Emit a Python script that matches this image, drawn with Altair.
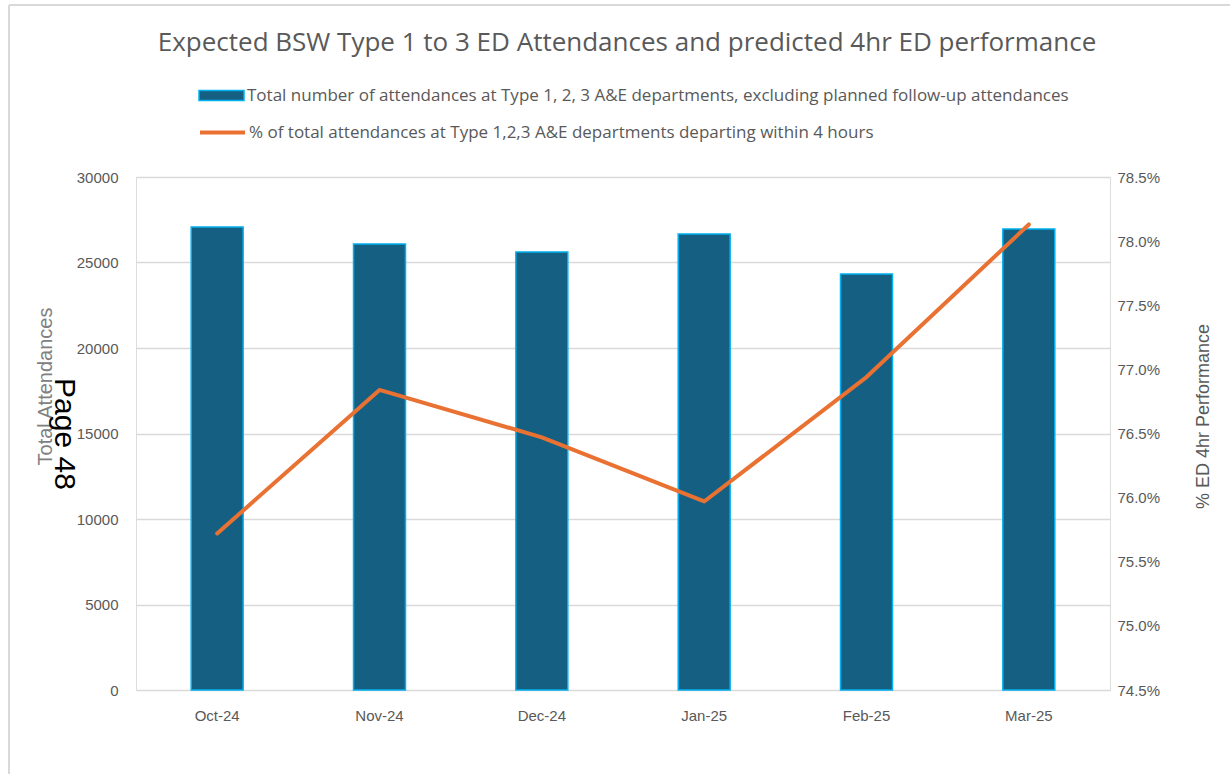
import altair as alt
import pandas as pd

# Monthly values
months = ["Oct-24", "Nov-24", "Dec-24", "Jan-25", "Feb-25", "Mar-25"]
attendances = [27080, 26080, 25610, 26670, 24330, 26960]
performance = [75.72, 76.84, 76.47, 75.97, 76.94, 78.13]

bar_label = ("Total number of attendances at Type 1, 2, 3 A&E departments, "
             "excluding planned follow-up attendances")
line_label = "% of total attendances at Type 1,2,3 A&E departments departing within 4 hours"

left_ticks = [0, 5000, 10000, 15000, 20000, 25000, 30000]
right_ticks = [74.5, 75.0, 75.5, 76.0, 76.5, 77.0, 77.5, 78.0, 78.5]

df = pd.DataFrame({
    "month": months,
    "attendances": attendances,
    "performance": performance,
    "bar_series": [bar_label] * len(months),
    "line_series": [line_label] * len(months),
})

GREY = "#595959"
GRID = "#d9d9d9"
TEXT_FONT = "Open Sans"
AXIS_FONT = "Liberation Sans"

x_enc = alt.X(
    "month:N",
    sort=months,
    scale=alt.Scale(paddingInner=0.68, paddingOuter=0.34),
    axis=alt.Axis(title=None, labelAngle=0, domain=False, ticks=False, grid=False,
                  labelFont=AXIS_FONT, labelFontSize=15, labelColor=GREY,
                  labelPadding=18),
)

bars = alt.Chart(df).mark_bar(stroke="#00B0F0", strokeWidth=1.5).encode(
    x=x_enc,
    y=alt.Y(
        "attendances:Q",
        scale=alt.Scale(domain=[0, 30000]),
        axis=alt.Axis(values=left_ticks, title="Total Attendances", format="d",
                      domain=False, ticks=False, grid=True, gridColor=GRID, gridWidth=1.3,
                      labelFont=AXIS_FONT, labelFontSize=15, labelColor=GREY, labelPadding=18,
                      titleFont=AXIS_FONT, titleFontSize=20, titleColor="#808080",
                      titleFontWeight="normal", titleX=-91, titleY=209,
                      titleBaseline="middle", titleAlign="center"),
    ),
    fill=alt.Fill(
        "bar_series:N",
        scale=alt.Scale(range=["#156082"]),
        legend=alt.Legend(title=None, orient="none", legendX=62, legendY=-105,
                          symbolType="M-1,-0.22H1V0.22H-1Z", symbolSize=2025,
                          symbolStrokeColor="#00B0F0", symbolStrokeWidth=1.5,
                          labelFont=TEXT_FONT, labelFontSize=17, labelColor=GREY,
                          labelLimit=0, labelOffset=2),
    ),
)

line = alt.Chart(df).mark_line(strokeWidth=4, strokeCap="round", strokeJoin="round").encode(
    x=x_enc,
    y=alt.Y(
        "performance:Q",
        scale=alt.Scale(domain=[74.5, 78.5]),
        axis=alt.Axis(orient="right", values=right_ticks,
                      labelExpr="format(datum.value, '.1f') + '%'",
                      title="% ED 4hr Performance", domain=False, ticks=False, grid=False,
                      labelFont=AXIS_FONT, labelFontSize=15, labelColor=GREY, labelPadding=7,
                      titleFont=AXIS_FONT, titleFontSize=18, titleColor=GREY,
                      titleFontWeight="normal", titleX=93, titleY=239,
                      titleBaseline="middle", titleAlign="center", titleAngle=-90),
    ),
    stroke=alt.Stroke(
        "line_series:N",
        scale=alt.Scale(range=["#E97132"]),
        legend=alt.Legend(title=None, orient="none", legendX=62, legendY=-69,
                          symbolType="stroke", symbolSize=2025, symbolStrokeWidth=4,
                          labelFont=TEXT_FONT, labelFontSize=17, labelColor=GREY,
                          labelLimit=0, labelOffset=2),
    ),
)

# Page stamp over the left axis
page_stamp = alt.Chart(pd.DataFrame({"t": ["Page 48"]})).mark_text(
    angle=90, fontSize=30, font=AXIS_FONT, color="black", align="center", baseline="middle"
).encode(text="t:N", x=alt.value(-72), y=alt.value(257))

# Outer frame (top and left edges)
frame_left = alt.Chart(pd.DataFrame({"k": [0]})).mark_rule(color=GRID, strokeWidth=2).encode(
    x=alt.value(-127), y=alt.value(-172), y2=alt.value(600)
)
frame_top = alt.Chart(pd.DataFrame({"k": [0]})).mark_rule(color=GRID, strokeWidth=2).encode(
    x=alt.value(-127), x2=alt.value(1100), y=alt.value(-172)
)

chart = alt.layer(frame_left, frame_top, bars, line, page_stamp).resolve_scale(
    y="independent"
).properties(
    width=974,
    height=513,
    padding={"left": 136, "top": 177, "right": 120, "bottom": 84},
    autosize=alt.AutoSizeParams(type="none"),
    title=alt.Title(
        "Expected BSW Type 1 to 3 ED Attendances and predicted 4hr ED performance",
        font=TEXT_FONT, fontSize=26, fontWeight="normal", color=GREY,
        anchor="middle", offset=-52, dx=4,
    ),
).configure_view(stroke=None).configure(background="white")

chart.save("out.html", embed_options={"renderer": "svg", "actions": False})
